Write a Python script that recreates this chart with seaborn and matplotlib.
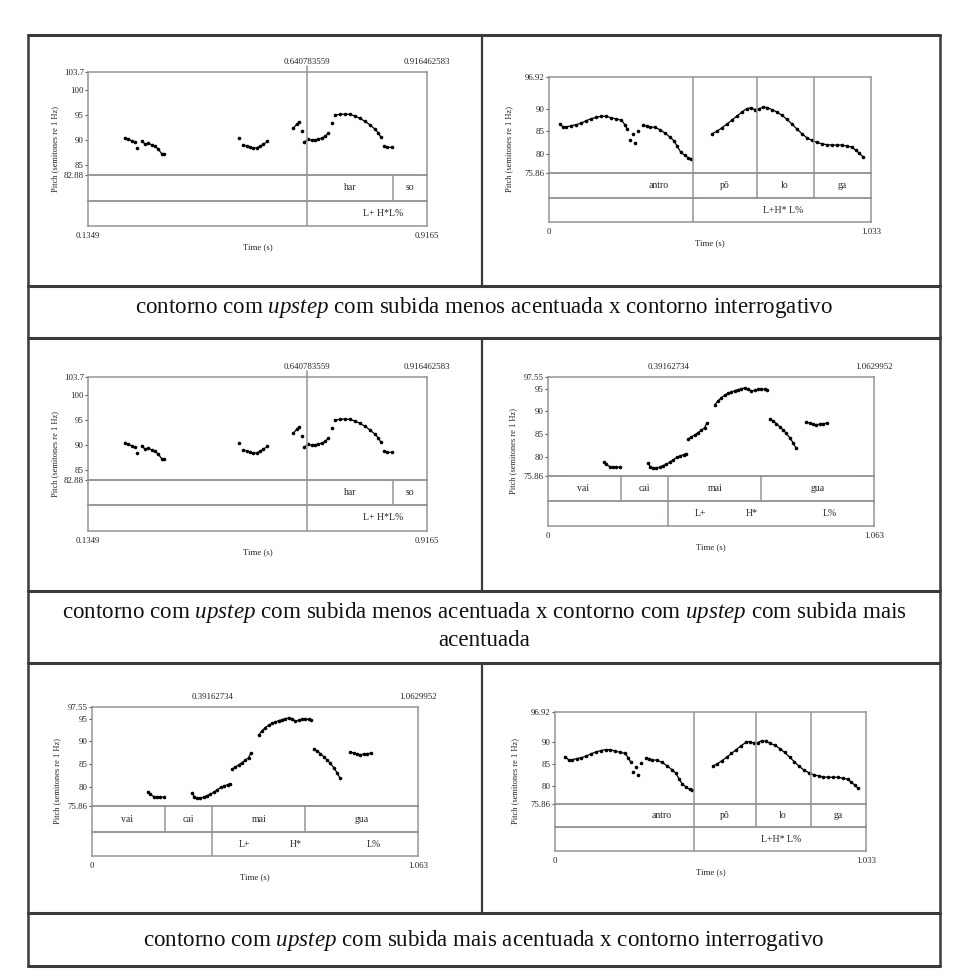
import matplotlib
matplotlib.use("Agg")
import matplotlib.pyplot as plt
import matplotlib.transforms as mtransforms
import pandas as pd
import seaborn as sns

# ---------------- data ----------------
# Panel A : "har so" (upstep, subida menos acentuada)
a_time = [0.2200, 0.2280, 0.2356, 0.2433, 0.2486, 0.2586, 0.2663, 0.2740, 0.2817, 0.2894,
          0.2971, 0.3048, 0.3101, 0.4838, 0.4930, 0.5007, 0.5084, 0.5161, 0.5238, 0.5315,
          0.5392, 0.5484, 0.6083, 0.6160, 0.6214, 0.6275, 0.6329, 0.6429, 0.6506, 0.6583,
          0.6659, 0.6737, 0.6813, 0.6889, 0.6967, 0.7044, 0.7159, 0.7274, 0.7390, 0.7505,
          0.7620, 0.7736, 0.7851, 0.7966, 0.8042, 0.8104, 0.8174, 0.8250, 0.8351]
a_pitch = [90.40, 90.13, 89.80, 89.53, 88.33, 89.80, 89.13, 89.27, 89.00, 88.73,
           88.07, 87.20, 87.13, 90.33, 89.00, 88.73, 88.47, 88.27, 88.40, 88.67,
           89.07, 89.67, 92.33, 93.13, 93.60, 91.80, 89.53, 90.07, 89.93, 90.00,
           90.13, 90.33, 90.67, 91.27, 93.47, 95.00, 95.13, 95.20, 95.13, 94.80,
           94.33, 93.73, 93.00, 92.13, 91.40, 90.47, 88.80, 88.47, 88.47]
a_seg = [1, 1, 1, 1, 2, 3, 3, 3, 3, 3,
         3, 3, 3, 4, 5, 5, 5, 5, 5, 5,
         5, 5, 6, 6, 6, 7, 8, 8, 8, 8,
         8, 8, 8, 8, 9, 10, 10, 10, 10, 10,
         10, 10, 10, 10, 10, 10, 11, 11, 11]
a_yticks = [82.88, 85, 90, 95, 100, 103.7]
a_ytick_labels = ["82.88", "85", "90", "95", "100", "103.7"]
a_xlabels = ["0.1349", "0.9165"]
a_top_labels = ["0.640783559", "0.916462583"]
a_top_pos = [0.640783559, 0.916462583]
a_tier1_text = ["har", "so"]
a_tier1_pos = [0.739, 0.877]
a_tier1_bounds = [0.838]
a_tier2_text = ["L+ H*L%"]
a_tier2_pos = [0.815]
a_full_bounds = [0.640783559]

# Panel B : contorno interrogativo ("antro pô lo ga")
b_time = [0.0343, 0.0450, 0.0557, 0.0718, 0.0879, 0.1039, 0.1200, 0.1361, 0.1522, 0.1682,
          0.1843, 0.2004, 0.2165, 0.2325, 0.2433, 0.2508, 0.2593, 0.2679, 0.2754, 0.2861,
          0.3022, 0.3129, 0.3236, 0.3397, 0.3558, 0.3718, 0.3879, 0.4008, 0.4115, 0.4233,
          0.4361, 0.4469, 0.4554, 0.5240, 0.5379, 0.5540, 0.5701, 0.5862, 0.6022, 0.6183,
          0.6344, 0.6472, 0.6612, 0.6740, 0.6880, 0.7008, 0.7147, 0.7308, 0.7469, 0.7630,
          0.7791, 0.7951, 0.8112, 0.8273, 0.8434, 0.8594, 0.8755, 0.8916, 0.9076, 0.9237,
          0.9398, 0.9559, 0.9719, 0.9848, 0.9955, 1.0073]
b_pitch = [86.69, 85.96, 85.96, 86.25, 86.47, 86.84, 87.35, 87.79, 88.09, 88.31,
           88.31, 87.94, 87.72, 87.43, 86.47, 85.51, 83.16, 84.41, 82.43, 85.15,
           86.47, 86.10, 85.96, 85.88, 85.37, 84.63, 83.75, 82.94, 81.69, 80.37,
           79.71, 79.19, 79.04, 84.49, 85.00, 85.74, 86.54, 87.43, 88.31, 89.19,
           90.00, 90.15, 89.78, 89.93, 90.37, 90.22, 89.78, 89.26, 88.53, 87.65,
           86.62, 85.51, 84.49, 83.60, 83.01, 82.57, 82.28, 82.06, 81.99, 81.99,
           81.99, 81.76, 81.54, 80.81, 80.22, 79.41]
b_seg = [1] * 16 + [2, 3, 4, 5] + [6] * 13 + [7] * 33
b_yticks = [75.86, 80, 85, 90, 96.92]
b_ytick_labels = ["75.86", "80", "85", "90", "96.92"]
b_xlabels = ["0", "1.033"]
b_tier1_text = ["antro", "pô", "lo", "ga"]
b_tier1_pos = [0.353, 0.563, 0.757, 0.940]
b_tier2_text = ["L+H* L%"]
b_tier2_pos = [0.750]
b_full_bounds = [0.4608]
b_upper_bounds = [0.6665, 0.8487]

# Panel C : upstep com subida mais acentuada ("vai cai mai gua")
c_time = [0.1815, 0.1902, 0.2011, 0.2119, 0.2228, 0.2337,
          0.3261, 0.3337, 0.3424, 0.3532, 0.3641, 0.3750, 0.3858, 0.3967, 0.4076, 0.4206,
          0.4315, 0.4424, 0.4511,
          0.4565, 0.4674, 0.4782, 0.4891, 0.5000, 0.5108, 0.5184,
          0.5435, 0.5543, 0.5652, 0.5761, 0.5869, 0.5978, 0.6087, 0.6195, 0.6304, 0.6413,
          0.6521, 0.6630, 0.6739, 0.6847, 0.6956, 0.7065, 0.7152,
          0.7228, 0.7337, 0.7445, 0.7554, 0.7663, 0.7771, 0.7880, 0.7989, 0.8076,
          0.8423, 0.8532, 0.8641, 0.8749, 0.8858, 0.8967, 0.9097]
c_pitch = [78.94, 78.43, 77.92, 77.77, 77.77, 77.85,
           78.72, 77.92, 77.63, 77.63, 77.77, 78.14, 78.43, 78.87, 79.38, 79.96,
           80.26, 80.55, 80.77,
           83.91, 84.42, 84.85, 85.36, 85.88, 86.46, 87.55,
           91.42, 92.30, 93.03, 93.54, 93.98, 94.27, 94.56, 94.78, 95.00, 95.15,
           94.85, 94.49, 94.64, 94.85, 94.93, 94.85, 94.78,
           88.28, 87.92, 87.34, 86.68, 85.95, 85.22, 84.27, 83.18, 82.08,
           87.77, 87.41, 87.19, 87.12, 87.19, 87.34, 87.41]
c_seg = [1] * 6 + [2] * 13 + [3] * 7 + [4] * 17 + [5] * 9 + [6] * 7
c_yticks = [75.86, 80, 85, 90, 95, 97.55]
c_ytick_labels = ["75.86", "80", "85", "90", "95", "97.55"]
c_xlabels = ["0", "1.063"]
c_top_labels = ["0.39162734", "1.0629952"]
c_top_pos = [0.39162734, 1.0629952]
c_tier1_text = ["vai", "cai", "mai", "gua"]
c_tier1_pos = [0.114, 0.314, 0.544, 0.879]
c_tier1_bounds = [0.2391, 0.6956]
c_tier2_text = ["L+", "H*", "L%"]
c_tier2_pos = [0.496, 0.665, 0.920]
c_lower_bounds = [0.39162734]

captions = [
    r"contorno com $\mathit{upstep}$ com subida menos acentuada x contorno interrogativo",
    r"contorno com $\mathit{upstep}$ com subida menos acentuada x contorno com $\mathit{upstep}$ com subida mais",
    "acentuada",
    r"contorno com $\mathit{upstep}$ com subida mais acentuada x contorno interrogativo",
]

# ---------------- style ----------------
sns.set_theme(style="white")
plt.rcParams["font.family"] = ["Liberation Serif", "DejaVu Serif"]
plt.rcParams["mathtext.fontset"] = "custom"
plt.rcParams["mathtext.rm"] = "Liberation Serif"
plt.rcParams["mathtext.it"] = "Liberation Serif:italic"

W, H = 967, 980
fig = plt.figure(figsize=(W / 100, H / 100), dpi=100)
fig.patch.set_facecolor("white")

BOX = "#9c928d"
TABLE = "#3a3a3a"
SMALL = 6.3


def fx(px):
    return px / W


def add_ax(x0, x1, ytop, ybot):
    ax = fig.add_axes([fx(x0), 1 - ybot / H, (x1 - x0) / W, (ybot - ytop) / H])
    ax.set_facecolor("none")
    for s in ax.spines.values():
        s.set_color(BOX)
        s.set_linewidth(1.1)
    return ax


def praat(box, trange, yrange, df, yticks, ytl, xlabels, tier1, tier2,
          full=(), upper=(), lower=(), t1only=(), top=None, ylab_off=36):
    x0, x1, yt, yp, y1, yb = box
    axp = add_ax(x0, x1, yt, yp)
    ax1 = add_ax(x0, x1, yp, y1)
    ax2 = add_ax(x0, x1, y1, yb)
    sns.lineplot(data=df, x="t", y="st", units="seg", estimator=None, sort=False,
                 color="black", lw=0.9, marker="o", markersize=2.6,
                 markeredgewidth=0, ax=axp, legend=False)
    axp.set_xlim(*trange)
    axp.set_ylim(*yrange)
    axp.set_xlabel("")
    axp.set_ylabel("")
    axp.set_xticks([])
    axp.set_yticks(yticks)
    axp.set_yticklabels(ytl)
    axp.tick_params(axis="y", left=True, length=2, width=0.8, color="#555555",
                    labelsize=SMALL, pad=1, labelcolor="#222222")
    for ax in (ax1, ax2):
        ax.set_xlim(*trange)
        ax.set_ylim(0, 1)
        ax.set_xticks([])
        ax.set_yticks([])
    for t in full:
        for ax in (axp, ax1, ax2):
            ax.axvline(t, color=BOX, lw=1.1)
    for t in upper:
        for ax in (axp, ax1):
            ax.axvline(t, color=BOX, lw=1.1)
    for t in lower:
        for ax in (ax1, ax2):
            ax.axvline(t, color=BOX, lw=1.1)
    for t in t1only:
        ax1.axvline(t, color=BOX, lw=1.1)
    txt, pos = tier1
    for s, p in zip(txt, pos):
        ax1.text(p, 0.5, s, ha="center", va="center", fontsize=7,
                 transform=mtransforms.blended_transform_factory(ax1.transData, ax1.transAxes))
    txt, pos = tier2
    for s, p in zip(txt, pos):
        ax2.text(p, 0.5, s, ha="center", va="center", fontsize=7,
                 transform=mtransforms.blended_transform_factory(ax2.transData, ax2.transAxes))
    if top is not None:
        txt, pos, ext = top
        for s, p in zip(txt, pos):
            axp.annotate(s, xy=(p, 1), xycoords=("data", "axes fraction"),
                         xytext=(0, 4), textcoords="offset points",
                         ha="center", va="bottom", fontsize=SMALL, color="#222222")
        for p in ext:
            axp.plot([p, p], [1, 1 + 6 / (yp - yt)], color=BOX, lw=1.1,
                     transform=mtransforms.blended_transform_factory(axp.transData, axp.transAxes),
                     clip_on=False)
    ax2.annotate(xlabels[0], xy=(0, 0), xycoords="axes fraction", xytext=(0, -4),
                 textcoords="offset points", ha="center", va="top", fontsize=SMALL,
                 color="#222222")
    ax2.annotate(xlabels[1], xy=(1, 0), xycoords="axes fraction", xytext=(0, -4),
                 textcoords="offset points", ha="center", va="top", fontsize=SMALL,
                 color="#222222")
    ax2.annotate("Time (s)", xy=(0.5, 0), xycoords="axes fraction", xytext=(0, -15),
                 textcoords="offset points", ha="center", va="center", fontsize=SMALL,
                 color="#222222")
    fig.text(fx(x0 - ylab_off), 1 - ((yt + yb) / 2) / H, "Pitch (semitones re 1 Hz)",
             rotation=90, ha="center", va="center", fontsize=SMALL - 0.3, color="#222222")


dfa = pd.DataFrame({"t": a_time, "st": a_pitch, "seg": a_seg})
dfb = pd.DataFrame({"t": b_time, "st": b_pitch, "seg": b_seg})
dfc = pd.DataFrame({"t": c_time, "st": c_pitch, "seg": c_seg})

# ---------------- table frame ----------------
bg = fig.add_axes([0, 0, 1, 1])
bg.set_xlim(0, W)
bg.set_ylim(H, 0)
bg.axis("off")
bg.set_zorder(-5)
L, R, MID = 28, 940, 482
rows = [35, 286, 338, 591, 663, 913, 966]
bg.plot([L, L], [rows[0], rows[-1]], color=TABLE, lw=1.8)
bg.plot([R, R], [rows[0], rows[-1]], color=TABLE, lw=1.8)
for y in rows:
    bg.plot([L, R], [y, y], color=TABLE, lw=2.2)
for a, b in [(0, 1), (2, 3), (4, 5)]:
    bg.plot([MID, MID], [rows[a], rows[b]], color=TABLE, lw=1.6)

# ---------------- panels ----------------
a_kw = dict(trange=(0.1349, 0.9165), yrange=(82.88, 103.7), df=dfa,
            yticks=a_yticks, ytl=a_ytick_labels, xlabels=a_xlabels,
            tier1=(a_tier1_text, a_tier1_pos), tier2=(a_tier2_text, a_tier2_pos),
            full=a_full_bounds, t1only=a_tier1_bounds,
            top=(a_top_labels, a_top_pos, a_full_bounds), ylab_off=33)
b_kw = dict(trange=(0, 1.033), yrange=(75.86, 96.92), df=dfb,
            yticks=b_yticks, ytl=b_ytick_labels, xlabels=b_xlabels,
            tier1=(b_tier1_text, b_tier1_pos), tier2=(b_tier2_text, b_tier2_pos),
            full=b_full_bounds, upper=b_upper_bounds, ylab_off=40)
c_kw = dict(trange=(0, 1.063), yrange=(75.86, 97.55), df=dfc,
            yticks=c_yticks, ytl=c_ytick_labels, xlabels=c_xlabels,
            tier1=(c_tier1_text, c_tier1_pos), tier2=(c_tier2_text, c_tier2_pos),
            lower=c_lower_bounds, t1only=c_tier1_bounds,
            top=(c_top_labels, c_top_pos, []), ylab_off=35)

praat((88, 427, 72, 175, 201, 226), **a_kw)
praat((549, 871, 77, 173, 198, 222), **b_kw)
praat((88, 427, 377, 480, 505, 531), **a_kw)
praat((548, 874, 377, 476, 501, 526), **c_kw)
praat((92, 418, 707, 806, 832, 856), **c_kw)
praat((555, 866, 712, 804, 827, 851), **b_kw)

# ---------------- captions ----------------
CAP = 16.6
cx = (L + R) / 2 / W
fig.text(cx, 1 - 308 / H, captions[0], ha="center", va="center", fontsize=CAP, color="#111111")
fig.text(cx, 1 - 612 / H, captions[1], ha="center", va="center", fontsize=CAP, color="#111111")
fig.text(cx, 1 - 640 / H, captions[2], ha="center", va="center", fontsize=CAP, color="#111111")
fig.text(cx, 1 - 940 / H, captions[3], ha="center", va="center", fontsize=CAP, color="#111111")

fig.savefig("out.png", dpi=100, facecolor="white")
